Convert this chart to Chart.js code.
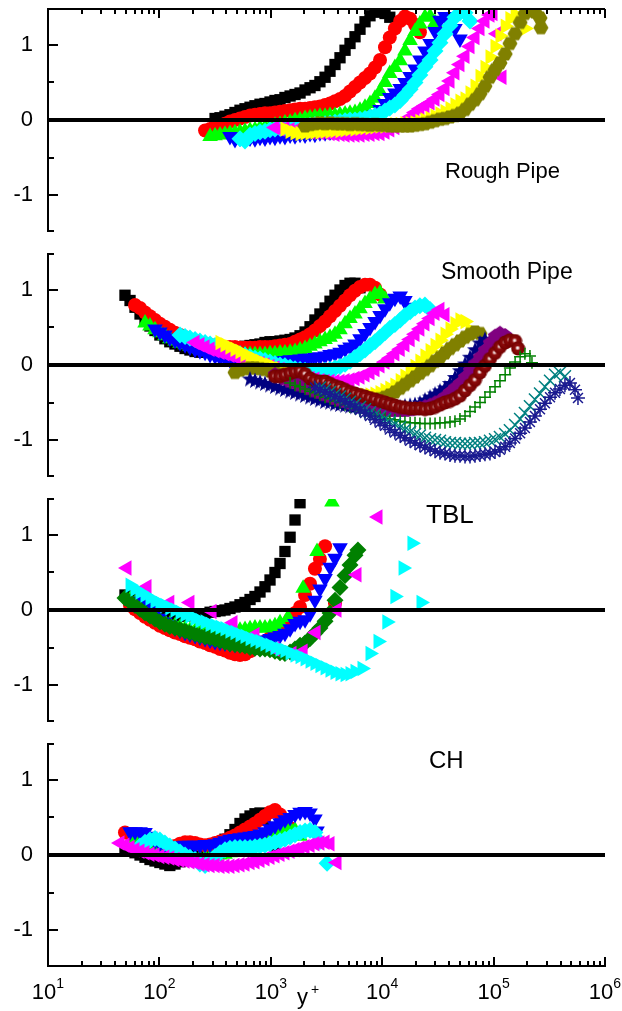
<!DOCTYPE html>
<html>
<head>
<meta charset="utf-8">
<script src="https://cdn.jsdelivr.net/npm/chart.js@4.4.0/dist/chart.umd.min.js"></script>
<style>
html, body { margin: 0; padding: 0; background: #fff; }
#wrap { position: relative; width: 622px; height: 1011px; overflow: hidden; }
canvas { position: absolute; left: 0; }
</style>
</head>
<body>
<div id="wrap">
  <canvas id="rough" width="622" height="240" style="top:0px"></canvas>
  <canvas id="smooth" width="622" height="240" style="top:245px"></canvas>
  <canvas id="tbl" width="622" height="240" style="top:490px"></canvas>
  <canvas id="ch" width="622" height="276" style="top:735px"></canvas>
</div>
<script>
// axis ticks
const yTicks = [-1, 0, 1];
const yMinor = [-0.5, 0.5];
const xDecades = [10, 100, 1000, 10000, 100000, 1000000];
const xSup = ['1', '2', '3', '4', '5', '6'];

// ---- Rough Pipe ----  [y+, value]
const roughBlack = [[316,0.02],[350,0.03],[388,0.05],[430,0.07],[477,0.1],[529,0.13],[587,0.15],[651,0.17],[721,0.19],[800,0.21],[887,0.22],[984,0.24],[1090,0.26],[1210,0.27],[1340,0.3],[1490,0.32],[1650,0.34],[1830,0.36],[2030,0.4],[2250,0.43],[2490,0.46],[2760,0.51],[3070,0.57],[3400,0.65],[3770,0.74],[4180,0.83],[4640,0.93],[5140,1.02],[5700,1.11],[6320,1.21],[7010,1.31],[7770,1.39],[8620,1.44],[9560,1.44],[10600,1.42],[11700,1.37]];
const roughRed = [[257,-0.14],[285,-0.12],[316,-0.09],[350,-0.07],[388,-0.05],[430,-0.02],[477,0],[529,0.02],[587,0.04],[651,0.06],[721,0.07],[800,0.08],[887,0.09],[984,0.09],[1090,0.1],[1210,0.11],[1340,0.12],[1490,0.13],[1650,0.14],[1830,0.15],[2030,0.15],[2250,0.16],[2490,0.17],[2760,0.18],[3070,0.2],[3400,0.22],[3770,0.25],[4180,0.28],[4640,0.32],[5140,0.38],[5700,0.44],[6320,0.5],[7010,0.56],[7770,0.62],[8620,0.7],[9560,0.8],[10600,0.97],[11700,1.1],[13000,1.22],[14500,1.32],[16000,1.38],[17800,1.35],[19700,1.27],[21800,1.17]];
const roughGreen = [[285,-0.22],[316,-0.21],[350,-0.2],[388,-0.19],[430,-0.18],[477,-0.17],[529,-0.16],[587,-0.15],[651,-0.14],[721,-0.13],[800,-0.11],[887,-0.1],[984,-0.09],[1090,-0.07],[1210,-0.06],[1340,-0.04],[1490,-0.03],[1650,-0.01],[1830,0],[2030,0.02],[2250,0.03],[2490,0.04],[2760,0.05],[3070,0.05],[3400,0.06],[3770,0.06],[4180,0.07],[4640,0.08],[5140,0.09],[5700,0.1],[6320,0.13],[7010,0.17],[7770,0.22],[8620,0.29],[9560,0.38],[10600,0.5],[11700,0.62],[13000,0.7],[14500,0.79],[16000,0.92],[17800,1.06],[19700,1.18],[21800,1.28],[24200,1.37],[26900,1.38],[29800,1.3]];
const roughBlue = [[430,-0.22],[477,-0.26],[529,-0.24],[587,-0.26],[651,-0.24],[721,-0.25],[800,-0.23],[887,-0.24],[984,-0.22],[1090,-0.23],[1210,-0.21],[1340,-0.22],[1490,-0.2],[1650,-0.21],[1830,-0.19],[2030,-0.2],[2250,-0.18],[2490,-0.19],[2760,-0.17],[3070,-0.17],[3400,-0.16],[3770,-0.15],[4180,-0.14],[4640,-0.13],[5140,-0.11],[5700,-0.09],[6320,-0.06],[7010,-0.02],[7770,0.02],[8620,0.07],[9560,0.14],[10600,0.22],[11700,0.3],[13000,0.36],[14500,0.42],[16000,0.5],[17800,0.58],[19700,0.68],[21800,0.8],[24200,0.92],[26900,1.02],[29800,1.18],[33000,1.33],[36600,1.38],[40600,1.32],[45000,1.22],[49900,1.08]];
const roughCyan = [[529,-0.25],[587,-0.28],[651,-0.2],[721,-0.18],[800,-0.16],[887,-0.15],[984,-0.13],[1090,-0.12],[1210,-0.11],[1340,-0.1],[1490,-0.1],[1650,-0.09],[1830,-0.08],[2030,-0.08],[2250,-0.07],[2490,-0.06],[2760,-0.06],[3070,-0.05],[3400,-0.04],[3770,-0.03],[4180,-0.02],[4640,-0.01],[5140,0],[5700,0],[6320,0.01],[7010,0.02],[7770,0.04],[8620,0.06],[9560,0.08],[10600,0.12],[11700,0.16],[13000,0.2],[14500,0.26],[16000,0.33],[17800,0.41],[19700,0.5],[21800,0.6],[24200,0.71],[26900,0.8],[29800,0.92],[33000,1.03],[36600,1.15],[40600,1.26],[45000,1.37],[49900,1.43],[55400,1.43],[61400,1.32]];
const roughMagenta = [[1090,-0.1],[1210,-0.12],[1340,-0.11],[1490,-0.13],[1650,-0.14],[1830,-0.14],[2030,-0.15],[2250,-0.16],[2490,-0.16],[2760,-0.17],[3070,-0.17],[3400,-0.18],[3770,-0.19],[4180,-0.19],[4640,-0.2],[5140,-0.2],[5700,-0.2],[6320,-0.2],[7010,-0.19],[7770,-0.19],[8620,-0.18],[9560,-0.18],[10600,-0.16],[11700,-0.13],[13000,-0.1],[14500,-0.06],[16000,-0.02],[17800,0.04],[19700,0.1],[21800,0.15],[24200,0.19],[26900,0.23],[29800,0.28],[33000,0.34],[36600,0.42],[40600,0.52],[45000,0.63],[49900,0.74],[55400,0.85],[61400,0.98],[68100,1.1],[75500,1.22],[83700,1.32],[92800,1.4],[98800,1.42],[107000,1.15],[119000,0.57]];
const roughYellow = [[1340,-0.12],[1490,-0.15],[1650,-0.17],[1830,-0.18],[2030,-0.17],[2250,-0.17],[2490,-0.16],[2760,-0.16],[3070,-0.15],[3400,-0.15],[3770,-0.14],[4180,-0.14],[4640,-0.13],[5140,-0.12],[5700,-0.12],[6320,-0.11],[7010,-0.1],[7770,-0.1],[8620,-0.09],[9560,-0.08],[10600,-0.08],[11700,-0.07],[13000,-0.06],[14500,-0.06],[16000,-0.05],[17800,-0.05],[19700,-0.04],[21800,-0.02],[24200,0],[26900,0.02],[29800,0.05],[33000,0.08],[36600,0.11],[40600,0.15],[45000,0.2],[49900,0.25],[55400,0.28],[61400,0.36],[68100,0.45],[75500,0.58],[83700,0.7],[92800,0.84],[103000,0.98],[114000,1.12],[127000,1.25],[140000,1.35],[156000,1.4],[173000,1.37],[191000,1.22]];
const roughOlive = [[2030,-0.08],[2250,-0.06],[2490,-0.05],[2760,-0.04],[3070,-0.05],[3400,-0.04],[3770,-0.05],[4180,-0.05],[4640,-0.05],[5140,-0.06],[5700,-0.05],[6320,-0.06],[7010,-0.06],[7770,-0.07],[8620,-0.06],[9560,-0.07],[10600,-0.07],[11700,-0.08],[13000,-0.08],[14500,-0.08],[16000,-0.08],[17800,-0.08],[19700,-0.07],[21800,-0.06],[24200,-0.05],[26900,-0.03],[29800,-0.01],[33000,0.01],[36600,0.02],[40600,0.04],[45000,0.06],[49900,0.09],[55400,0.14],[61400,0.21],[68100,0.27],[75500,0.35],[83700,0.45],[92800,0.57],[103000,0.67],[114000,0.76],[127000,0.88],[140000,1.02],[156000,1.15],[173000,1.3],[191000,1.42],[212000,1.46],[235000,1.44],[261000,1.36],[266000,1.23]];

// ---- Smooth Pipe ----
const smoothBlack = [[49.1,0.93],[54.5,0.86],[60.4,0.77],[67,0.68],[74.3,0.59],[82.3,0.52],[91.3,0.46],[101,0.4],[112,0.35],[124,0.31],[138,0.28],[153,0.25],[170,0.22],[188,0.2],[209,0.18],[231,0.17],[257,0.17],[285,0.17],[316,0.18],[350,0.19],[388,0.2],[430,0.21],[477,0.22],[529,0.24],[587,0.25],[651,0.26],[721,0.27],[800,0.28],[887,0.3],[984,0.31],[1090,0.31],[1210,0.32],[1340,0.33],[1490,0.34],[1650,0.36],[1830,0.39],[2030,0.44],[2250,0.51],[2490,0.6],[2760,0.68],[3070,0.76],[3400,0.85],[3770,0.93],[4180,1.0],[4640,1.06],[5140,1.09],[5700,1.09],[6320,1.03]];
const smoothRed = [[60.4,0.8],[67,0.76],[74.3,0.7],[82.3,0.65],[91.3,0.6],[101,0.55],[112,0.51],[124,0.47],[138,0.43],[153,0.4],[170,0.37],[188,0.34],[209,0.32],[231,0.3],[257,0.28],[285,0.27],[316,0.26],[350,0.25],[388,0.24],[430,0.24],[477,0.24],[529,0.23],[587,0.23],[651,0.23],[721,0.23],[800,0.24],[887,0.24],[984,0.24],[1090,0.25],[1210,0.26],[1340,0.27],[1490,0.28],[1650,0.31],[1830,0.34],[2030,0.37],[2250,0.41],[2490,0.46],[2760,0.52],[3070,0.58],[3400,0.65],[3770,0.72],[4180,0.79],[4640,0.86],[5140,0.93],[5700,0.99],[6320,1.04],[7010,1.07],[7770,1.07],[8620,1.03],[9560,0.94]];
const smoothGreen = [[74.3,0.56],[82.3,0.52],[91.3,0.47],[101,0.43],[112,0.39],[124,0.35],[138,0.32],[153,0.29],[170,0.27],[188,0.25],[209,0.23],[231,0.21],[257,0.2],[285,0.18],[316,0.17],[350,0.16],[388,0.15],[430,0.15],[477,0.14],[529,0.14],[587,0.14],[651,0.14],[721,0.14],[800,0.14],[887,0.14],[984,0.15],[1090,0.15],[1210,0.16],[1340,0.16],[1490,0.17],[1650,0.18],[1830,0.2],[2030,0.22],[2250,0.25],[2490,0.28],[2760,0.31],[3070,0.34],[3400,0.37],[3770,0.41],[4180,0.47],[4640,0.55],[5140,0.62],[5700,0.68],[6320,0.75],[7010,0.82],[7770,0.88],[8620,0.94],[9560,0.96],[10600,0.88]];
const smoothBlue = [[91.3,0.48],[101,0.44],[112,0.4],[124,0.36],[138,0.33],[153,0.3],[170,0.27],[188,0.24],[209,0.21],[231,0.19],[257,0.17],[285,0.14],[316,0.12],[350,0.1],[388,0.09],[430,0.07],[477,0.06],[529,0.05],[587,0.05],[651,0.04],[721,0.04],[800,0.04],[887,0.04],[984,0.04],[1090,0.05],[1210,0.05],[1340,0.06],[1490,0.07],[1650,0.07],[1830,0.08],[2030,0.09],[2250,0.09],[2490,0.1],[2760,0.11],[3070,0.12],[3400,0.14],[3770,0.15],[4180,0.17],[4640,0.21],[5140,0.24],[5700,0.28],[6320,0.35],[7010,0.42],[7770,0.5],[8620,0.58],[9560,0.66],[10600,0.75],[11700,0.83],[13000,0.89],[14500,0.92],[16000,0.86],[17100,0.77]];
const smoothCyan = [[153,0.4],[170,0.38],[188,0.36],[209,0.34],[231,0.32],[257,0.3],[285,0.28],[316,0.26],[350,0.23],[388,0.21],[430,0.19],[477,0.17],[529,0.15],[587,0.13],[651,0.11],[721,0.09],[800,0.08],[887,0.06],[984,0.04],[1090,0.02],[1210,0],[1340,-0.01],[1490,-0.03],[1650,-0.05],[1830,-0.06],[2030,-0.07],[2250,-0.08],[2490,-0.08],[2760,-0.08],[3070,-0.07],[3400,-0.06],[3770,-0.04],[4180,-0.02],[4640,0.01],[5140,0.05],[5700,0.1],[6320,0.15],[7010,0.2],[7770,0.26],[8620,0.31],[9560,0.37],[10600,0.43],[11700,0.49],[13000,0.54],[14500,0.6],[16000,0.66],[17800,0.71],[19700,0.76],[21800,0.79],[24200,0.8],[26900,0.74]];
const smoothMagenta = [[209,0.3],[231,0.27],[257,0.24],[285,0.21],[316,0.19],[350,0.17],[388,0.15],[430,0.13],[477,0.11],[529,0.09],[587,0.07],[651,0.05],[721,0.03],[800,0.02],[887,0],[984,-0.02],[1090,-0.04],[1210,-0.06],[1340,-0.08],[1490,-0.1],[1650,-0.12],[1830,-0.14],[2030,-0.16],[2250,-0.18],[2490,-0.19],[2760,-0.21],[3070,-0.22],[3400,-0.22],[3770,-0.22],[4180,-0.22],[4640,-0.21],[5140,-0.2],[5700,-0.18],[6320,-0.16],[7010,-0.13],[7770,-0.1],[8620,-0.06],[9560,-0.01],[10600,0.04],[11700,0.09],[13000,0.15],[14500,0.21],[16000,0.27],[17800,0.34],[19700,0.41],[21800,0.48],[24200,0.55],[26900,0.62],[29800,0.69],[33000,0.74],[36600,0.67]];
const smoothYellow = [[350,0.3],[388,0.27],[430,0.24],[477,0.21],[529,0.18],[587,0.14],[651,0.11],[721,0.08],[800,0.05],[887,0.02],[984,0],[1090,-0.03],[1210,-0.05],[1340,-0.08],[1490,-0.1],[1650,-0.13],[1830,-0.15],[2030,-0.18],[2250,-0.2],[2490,-0.23],[2760,-0.26],[3070,-0.28],[3400,-0.3],[3770,-0.32],[4180,-0.34],[4640,-0.36],[5140,-0.37],[5700,-0.39],[6320,-0.4],[7010,-0.4],[7770,-0.4],[8620,-0.39],[9560,-0.37],[10600,-0.34],[11700,-0.31],[13000,-0.27],[14500,-0.21],[16000,-0.15],[17800,-0.09],[19700,-0.02],[21800,0.05],[24200,0.12],[26900,0.19],[29800,0.26],[33000,0.33],[36600,0.41],[40600,0.48],[45000,0.55],[49900,0.6],[55400,0.58],[61400,0.47]];
const smoothOlive = [[477,-0.1],[529,-0.07],[587,-0.05],[651,-0.04],[721,-0.04],[800,-0.05],[887,-0.06],[984,-0.08],[1090,-0.1],[1210,-0.12],[1340,-0.14],[1490,-0.16],[1650,-0.19],[1830,-0.21],[2030,-0.24],[2250,-0.26],[2490,-0.29],[2760,-0.31],[3070,-0.34],[3400,-0.36],[3770,-0.38],[4180,-0.4],[4640,-0.42],[5140,-0.43],[5700,-0.45],[6320,-0.46],[7010,-0.47],[7770,-0.47],[8620,-0.47],[9560,-0.45],[10600,-0.43],[11700,-0.4],[13000,-0.36],[14500,-0.31],[16000,-0.26],[17800,-0.21],[19700,-0.16],[21800,-0.11],[24200,-0.06],[26900,-0.01],[29800,0.05],[33000,0.1],[36600,0.16],[40600,0.22],[45000,0.27],[49900,0.32],[55400,0.37],[61400,0.41],[68100,0.44],[75500,0.42]];
const smoothNavy = [[651,-0.18],[721,-0.2],[800,-0.22],[887,-0.24],[984,-0.26],[1090,-0.28],[1210,-0.3],[1340,-0.32],[1490,-0.34],[1650,-0.36],[1830,-0.38],[2030,-0.4],[2250,-0.42],[2490,-0.44],[2760,-0.46],[3070,-0.48],[3400,-0.49],[3770,-0.51],[4180,-0.52],[4640,-0.53],[5140,-0.54],[5700,-0.55],[6320,-0.56],[7010,-0.56],[7770,-0.57],[8620,-0.57],[9560,-0.57],[10600,-0.57],[11700,-0.56],[13000,-0.56],[14500,-0.55],[16000,-0.54],[17800,-0.53],[19700,-0.52],[21800,-0.5],[24200,-0.46],[26900,-0.42],[29800,-0.38],[33000,-0.34],[36600,-0.3],[40600,-0.24],[45000,-0.16],[49900,-0.07],[55400,0.02],[61400,0.11],[68100,0.21],[75500,0.3],[83700,0.35]];
const smoothPurple = [[1090,-0.12],[1210,-0.15],[1340,-0.18],[1490,-0.21],[1650,-0.23],[1830,-0.26],[2030,-0.28],[2250,-0.31],[2490,-0.34],[2760,-0.36],[3070,-0.39],[3400,-0.41],[3770,-0.44],[4180,-0.46],[4640,-0.48],[5140,-0.5],[5700,-0.52],[6320,-0.54],[7010,-0.56],[7770,-0.57],[8620,-0.58],[9560,-0.59],[10600,-0.6],[11700,-0.6],[13000,-0.6],[14500,-0.6],[16000,-0.6],[17800,-0.59],[19700,-0.58],[21800,-0.57],[24200,-0.55],[26900,-0.53],[29800,-0.5],[33000,-0.47],[36600,-0.42],[40600,-0.36],[45000,-0.3],[49900,-0.24],[55400,-0.16],[61400,-0.07],[68100,0.02],[75500,0.11],[83700,0.2],[92800,0.3],[103000,0.39],[114000,0.43],[127000,0.4]];
const smoothWine = [[1090,-0.15],[1210,-0.15],[1340,-0.13],[1490,-0.11],[1650,-0.09],[1830,-0.08],[2030,-0.12],[2250,-0.18],[2490,-0.21],[2760,-0.22],[3070,-0.22],[3400,-0.25],[3770,-0.28],[4180,-0.3],[4640,-0.33],[5140,-0.36],[5700,-0.38],[6320,-0.4],[7010,-0.42],[7770,-0.44],[8620,-0.46],[9560,-0.48],[10600,-0.5],[11700,-0.52],[13000,-0.54],[14500,-0.56],[16000,-0.57],[17800,-0.58],[19700,-0.58],[21800,-0.58],[24200,-0.59],[26900,-0.58],[29800,-0.56],[33000,-0.53],[36600,-0.5],[40600,-0.48],[45000,-0.45],[49900,-0.41],[55400,-0.34],[61400,-0.27],[68100,-0.2],[75500,-0.1],[83700,-0.01],[92800,0.08],[103000,0.16],[114000,0.24],[127000,0.3],[140000,0.33],[156000,0.32],[166000,0.22]];
const smoothPlus = [[1490,-0.24],[1650,-0.27],[1830,-0.29],[2030,-0.32],[2250,-0.35],[2490,-0.37],[2760,-0.4],[3070,-0.43],[3400,-0.45],[3770,-0.48],[4180,-0.5],[4640,-0.53],[5140,-0.56],[5700,-0.58],[6320,-0.61],[7010,-0.63],[7770,-0.65],[8620,-0.67],[9560,-0.69],[10600,-0.71],[11700,-0.72],[13000,-0.73],[14500,-0.75],[16000,-0.76],[17800,-0.77],[19700,-0.77],[21800,-0.78],[24200,-0.78],[26900,-0.78],[29800,-0.78],[33000,-0.77],[36600,-0.77],[40600,-0.76],[45000,-0.75],[49900,-0.72],[55400,-0.68],[61400,-0.62],[68100,-0.56],[75500,-0.5],[83700,-0.43],[92800,-0.36],[103000,-0.29],[114000,-0.21],[127000,-0.13],[140000,-0.04],[156000,0.04],[173000,0.11],[191000,0.15],[212000,0.12],[221000,0.03]];
const smoothX = [[2760,-0.3],[3070,-0.33],[3400,-0.36],[3770,-0.39],[4180,-0.42],[4640,-0.45],[5140,-0.49],[5700,-0.52],[6320,-0.56],[7010,-0.59],[7770,-0.63],[8620,-0.66],[9560,-0.69],[10600,-0.72],[11700,-0.76],[13000,-0.79],[14500,-0.83],[16000,-0.86],[17800,-0.89],[19700,-0.92],[21800,-0.94],[24200,-0.97],[26900,-0.99],[29800,-1.0],[33000,-1.01],[36600,-1.03],[40600,-1.04],[45000,-1.04],[49900,-1.05],[55400,-1.05],[61400,-1.05],[68100,-1.04],[75500,-1.04],[83700,-1.03],[92800,-1.01],[103000,-0.99],[114000,-0.96],[127000,-0.92],[140000,-0.87],[156000,-0.8],[173000,-0.72],[191000,-0.64],[212000,-0.55],[235000,-0.46],[261000,-0.38],[289000,-0.29],[321000,-0.21],[356000,-0.13],[394000,-0.1],[437000,-0.15]];
const smoothAst = [[2490,-0.3],[2760,-0.33],[3070,-0.36],[3400,-0.39],[3770,-0.42],[4180,-0.45],[4640,-0.49],[5140,-0.52],[5700,-0.56],[6320,-0.6],[7010,-0.64],[7770,-0.68],[8620,-0.73],[9560,-0.77],[10600,-0.81],[11700,-0.86],[13000,-0.9],[14500,-0.94],[16000,-0.97],[17800,-1.01],[19700,-1.04],[21800,-1.07],[24200,-1.1],[26900,-1.12],[29800,-1.15],[33000,-1.17],[36600,-1.18],[40600,-1.2],[45000,-1.21],[49900,-1.21],[55400,-1.22],[61400,-1.22],[68100,-1.21],[75500,-1.2],[83700,-1.19],[92800,-1.18],[103000,-1.16],[114000,-1.13],[127000,-1.09],[140000,-1.04],[156000,-0.98],[173000,-0.91],[191000,-0.84],[212000,-0.76],[235000,-0.68],[261000,-0.59],[289000,-0.51],[321000,-0.43],[356000,-0.37],[394000,-0.32],[437000,-0.27],[485000,-0.24],[538000,-0.33],[572000,-0.44]];

// ---- TBL ----
const tblBlack = [[49.1,0.2],[54.5,0.15],[60.4,0.1],[67,0.06],[74.3,0.03],[82.3,0],[91.3,-0.02],[101,-0.04],[112,-0.06],[124,-0.07],[138,-0.08],[153,-0.08],[170,-0.08],[188,-0.07],[209,-0.07],[231,-0.06],[257,-0.05],[285,-0.03],[316,-0.02],[350,-0.01],[388,0],[430,0.02],[477,0.04],[529,0.07],[587,0.1],[651,0.14],[721,0.18],[800,0.24],[887,0.31],[984,0.4],[1090,0.5],[1210,0.62],[1340,0.78],[1490,0.97],[1650,1.2],[1830,1.43]];
const tblRed = [[54.5,0.06],[60.4,0.01],[67,-0.04],[74.3,-0.09],[82.3,-0.13],[91.3,-0.17],[101,-0.21],[112,-0.24],[124,-0.27],[138,-0.3],[153,-0.32],[170,-0.35],[188,-0.37],[209,-0.39],[231,-0.42],[257,-0.44],[285,-0.47],[316,-0.49],[350,-0.52],[388,-0.54],[430,-0.57],[477,-0.59],[529,-0.6],[587,-0.59],[651,-0.55],[721,-0.51],[800,-0.46],[887,-0.42],[984,-0.37],[1090,-0.32],[1210,-0.27],[1340,-0.2],[1490,-0.12],[1650,-0.04],[1830,0.04],[2030,0.2],[2250,0.35],[2490,0.55],[2760,0.68],[3070,0.85],[3770,0.09]];
const tblGreen = [[54.5,0.14],[60.4,0.09],[67,0.04],[74.3,-0.01],[82.3,-0.06],[91.3,-0.1],[101,-0.13],[112,-0.16],[124,-0.19],[138,-0.21],[153,-0.23],[170,-0.25],[188,-0.27],[209,-0.28],[231,-0.29],[257,-0.3],[285,-0.31],[316,-0.32],[350,-0.32],[388,-0.31],[430,-0.3],[477,-0.29],[529,-0.27],[587,-0.26],[651,-0.25],[721,-0.24],[800,-0.24],[887,-0.24],[984,-0.23],[1090,-0.21],[1210,-0.17],[1430,-0.1],[1950,0.29],[2600,0.78],[3540,1.44]];
const tblBlue = [[67,0.12],[74.3,0.06],[82.3,0],[91.3,-0.06],[101,-0.11],[112,-0.16],[124,-0.2],[138,-0.24],[153,-0.27],[170,-0.3],[188,-0.32],[209,-0.34],[231,-0.36],[257,-0.38],[285,-0.4],[316,-0.42],[350,-0.43],[388,-0.44],[430,-0.45],[477,-0.46],[529,-0.46],[587,-0.46],[651,-0.45],[721,-0.44],[800,-0.42],[887,-0.4],[984,-0.38],[1090,-0.36],[1210,-0.34],[1340,-0.31],[1490,-0.25],[1650,-0.18],[1830,-0.15],[2030,-0.13],[2250,-0.05],[2490,0.13],[2760,0.28],[3070,0.42],[3400,0.57],[3770,0.69],[4180,0.83]];
const tblDiamond = [[49.1,0.16],[54.5,0.11],[60.4,0.06],[67,0.01],[74.3,-0.04],[82.3,-0.08],[91.3,-0.12],[101,-0.16],[112,-0.19],[124,-0.22],[138,-0.24],[153,-0.26],[170,-0.28],[188,-0.3],[209,-0.32],[231,-0.34],[257,-0.36],[285,-0.37],[316,-0.39],[350,-0.41],[388,-0.43],[430,-0.45],[477,-0.46],[529,-0.47],[587,-0.48],[651,-0.5],[721,-0.51],[800,-0.52],[887,-0.52],[984,-0.53],[1090,-0.55],[1210,-0.57],[1340,-0.58],[1490,-0.56],[1650,-0.52],[1830,-0.47],[2030,-0.44],[2250,-0.38],[2490,-0.31],[2760,-0.24],[3070,-0.15],[3400,-0.04],[3770,0.13],[4180,0.3],[4640,0.46],[5140,0.6],[5700,0.73],[6060,0.8]];
const tblMagenta = [[51.2,0.56],[77.4,0.31],[124,0.1],[188,0.1],[297,-0.02],[458,-0.17],[721,-0.33],[1090,-0.52],[1550,-0.58],[1950,-0.55],[2550,-0.3],[3930,0],[5940,0.47],[9170,1.24]];
const tblCyan = [[54.5,0.33],[60.4,0.28],[67,0.24],[74.3,0.2],[82.3,0.16],[91.3,0.12],[101,0.09],[112,0.06],[124,0.03],[138,0],[153,-0.03],[170,-0.06],[188,-0.08],[209,-0.11],[231,-0.14],[257,-0.16],[285,-0.19],[316,-0.21],[350,-0.23],[388,-0.25],[430,-0.28],[477,-0.3],[529,-0.33],[587,-0.35],[651,-0.38],[721,-0.4],[800,-0.42],[887,-0.45],[984,-0.47],[1090,-0.5],[1210,-0.52],[1340,-0.54],[1490,-0.57],[1650,-0.6],[1830,-0.62],[2030,-0.65],[2250,-0.68],[2490,-0.71],[2760,-0.74],[3070,-0.77],[3400,-0.8],[3770,-0.83],[4180,-0.85],[4640,-0.86],[5140,-0.85],[5700,-0.82],[6590,-0.78],[7770,-0.58],[9170,-0.42],[11000,-0.16],[13000,0.18],[15400,0.56],[18500,0.89],[22300,0.1]];

// ---- CH ----
const chBlack = [[49.1,0.08],[54.5,0.05],[60.4,0.03],[67,0],[74.3,-0.03],[82.3,-0.06],[91.3,-0.08],[101,-0.1],[112,-0.12],[124,-0.14],[138,-0.12],[153,-0.09],[170,-0.05],[188,-0.02],[209,0.01],[231,0.04],[257,0.07],[285,0.1],[316,0.13],[350,0.17],[388,0.21],[430,0.27],[477,0.34],[529,0.42],[587,0.48],[651,0.52],[721,0.55],[800,0.56],[887,0.5],[984,0.35],[1090,0.12]];
const chRed = [[49.1,0.3],[54.5,0.28],[60.4,0.25],[67,0.2],[74.3,0.15],[82.3,0.12],[91.3,0.1],[101,0.09],[112,0.09],[124,0.1],[138,0.12],[153,0.15],[170,0.17],[188,0.17],[209,0.16],[231,0.14],[257,0.13],[285,0.14],[316,0.16],[350,0.18],[388,0.2],[430,0.23],[477,0.26],[529,0.3],[587,0.34],[651,0.38],[721,0.42],[800,0.47],[887,0.52],[984,0.57],[1090,0.6],[1210,0.54],[1340,0.45],[1490,0.36]];
const chGreen = [[60.4,0.2],[67,0.16],[74.3,0.12],[82.3,0.08],[91.3,0.05],[101,0.02],[112,0],[124,-0.02],[138,-0.04],[153,-0.05],[170,-0.06],[188,-0.06],[209,-0.06],[231,-0.05],[257,-0.04],[285,-0.03],[316,-0.02],[350,0],[388,0.01],[430,0.03],[477,0.05],[529,0.07],[587,0.09],[651,0.11],[721,0.14],[800,0.17],[887,0.2],[984,0.23],[1090,0.26],[1210,0.29],[1340,0.32],[1490,0.35],[1650,0.33],[1830,0.25]];
const chBlue = [[54.5,0.31],[60.4,0.31],[67,0.31],[74.3,0.3],[82.3,0.25],[91.3,0.19],[101,0.15],[112,0.13],[124,0.12],[138,0.12],[153,0.12],[170,0.13],[188,0.13],[209,0.13],[231,0.13],[257,0.14],[285,0.14],[316,0.15],[350,0.17],[388,0.19],[430,0.21],[477,0.22],[529,0.23],[587,0.24],[651,0.25],[721,0.26],[800,0.28],[887,0.31],[984,0.35],[1090,0.39],[1210,0.43],[1340,0.47],[1490,0.5],[1650,0.54],[1830,0.57],[2030,0.58],[2250,0.56],[2490,0.48],[2600,0.32]];
const chCyan = [[67,0.12],[74.3,0.17],[82.3,0.2],[91.3,0.22],[101,0.2],[112,0.16],[124,0.12],[138,0.08],[153,0.04],[170,0],[188,-0.03],[209,-0.06],[231,-0.12],[257,-0.14],[285,-0.08],[316,-0.02],[350,0.03],[388,0.07],[430,0.09],[477,0.1],[529,0.1],[587,0.1],[651,0.1],[721,0.11],[800,0.12],[887,0.13],[984,0.15],[1090,0.17],[1210,0.19],[1340,0.21],[1490,0.24],[1650,0.27],[1830,0.3],[2030,0.32],[2250,0.33],[2490,0.3],[2760,0.18],[3200,-0.11]];
const chMagenta = [[44.3,0.16],[49.1,0.13],[54.5,0.1],[60.4,0.07],[67,0.05],[74.3,0.03],[82.3,0.01],[91.3,0],[101,-0.02],[112,-0.03],[124,-0.04],[138,-0.06],[153,-0.07],[170,-0.08],[188,-0.09],[209,-0.1],[231,-0.12],[257,-0.13],[285,-0.14],[316,-0.14],[350,-0.15],[388,-0.15],[430,-0.15],[477,-0.14],[529,-0.13],[587,-0.12],[651,-0.1],[721,-0.09],[800,-0.07],[887,-0.05],[984,-0.03],[1090,-0.01],[1210,0.01],[1340,0.03],[1490,0.05],[1650,0.07],[1830,0.09],[2030,0.11],[2250,0.13],[2490,0.15],[2760,0.16],[3070,0.17],[3400,0.15],[3930,-0.1]];

const FONT = '"Liberation Sans", Arial, Helvetica, sans-serif';
Chart.defaults.font.family = FONT;

// marker pictures for shapes Chart.js doesn't have
function shape(kind, color, size) {
  const c = document.createElement('canvas');
  c.width = c.height = size;
  const g = c.getContext('2d');
  const m = size / 2, r = size / 2 - 0.5;
  g.beginPath();
  if (kind === 'hex') {
    for (let i = 0; i < 6; i++) {
      const a = i * Math.PI / 3;
      g.lineTo(m + r * Math.cos(a), m + r * Math.sin(a));
    }
  } else if (kind === 'pent') {
    for (let i = 0; i < 5; i++) {
      const a = -Math.PI / 2 + i * 2 * Math.PI / 5;
      g.lineTo(m + r * Math.cos(a), m + 0.6 + r * Math.sin(a));
    }
  } else if (kind === 'star') {
    for (let i = 0; i < 10; i++) {
      const a = -Math.PI / 2 + i * Math.PI / 5;
      const rr = i % 2 ? r * 0.42 : r;
      g.lineTo(m + rr * Math.cos(a), m + 1 + rr * Math.sin(a));
    }
  } else if (kind === 'sphere') {
    const gr = g.createRadialGradient(m - 0.7, m - 0.7, 0, m, m, r);
    gr.addColorStop(0, '#ffffff');
    gr.addColorStop(0.14, '#f0d8d8');
    gr.addColorStop(0.36, '#8e0c0c');
    gr.addColorStop(1, '#720000');
    g.arc(m, m, r, 0, Math.PI * 2);
    g.fillStyle = gr;
    g.fill();
    return c;
  }
  g.closePath();
  g.fillStyle = color;
  g.fill();
  return c;
}

const strokeOnly = ['cross', 'crossRot', 'star'];
function mk(data, color, style, r, rot) {
  return {
    data: data.map(p => ({ x: p[0], y: p[1] })),
    pointStyle: style,
    pointRadius: r,
    pointRotation: rot || 0,
    pointBackgroundColor: color,
    pointBorderColor: color,
    pointBorderWidth: strokeOnly.includes(style) ? 1.5 : 0
  };
}

const framePlugin = {
  id: 'frame',
  afterDatasetsDraw(chart, args, opts) {
    const ctx = chart.ctx;
    const a = chart.chartArea;
    const xs = chart.scales.x, ys = chart.scales.y;
    ctx.save();
    ctx.strokeStyle = '#000';
    ctx.lineWidth = 2;
    ctx.beginPath();
    ctx.moveTo(a.left, a.top); ctx.lineTo(a.left + 6, a.top);
    ctx.moveTo(a.left, a.bottom); ctx.lineTo(a.left + 6, a.bottom);
    yTicks.forEach(v => { const p = Math.round(ys.getPixelForValue(v)); ctx.moveTo(a.left, p); ctx.lineTo(a.left + 10, p); });
    yMinor.forEach(v => { const p = Math.round(ys.getPixelForValue(v)); ctx.moveTo(a.left, p); ctx.lineTo(a.left + 6, p); });
    if (opts.top || opts.bottom) {
      const yb = opts.top ? a.top : a.bottom;
      const dir = opts.top ? 1 : -1;
      if (opts.top) { ctx.moveTo(a.left, a.top); ctx.lineTo(a.right, a.top); }
      xDecades.forEach((d, i) => {
        const p = Math.round(xs.getPixelForValue(d));
        ctx.moveTo(p, yb); ctx.lineTo(p, yb + dir * 9);
        if (i < xDecades.length - 1) {
          for (let k = 2; k <= 9; k++) {
            const q = Math.round(xs.getPixelForValue(d * k));
            ctx.moveTo(q, yb); ctx.lineTo(q, yb + dir * 5);
          }
        }
      });
    }
    ctx.stroke();
    ctx.fillStyle = '#000';
    ctx.textBaseline = 'alphabetic';
    ctx.textAlign = 'left';
    if (opts.title) {
      ctx.font = opts.title.size + 'px ' + FONT;
      ctx.fillText(opts.title.text, opts.title.x, opts.title.y);
    }
    if (opts.bottom) {
      xDecades.forEach((d, i) => {
        const p = xs.getPixelForValue(d);
        ctx.font = '22px ' + FONT;
        const w1 = ctx.measureText('10').width;
        ctx.font = '14px ' + FONT;
        const w2 = ctx.measureText(xSup[i]).width;
        const x0 = p - (w1 + w2) / 2;
        ctx.font = '22px ' + FONT;
        ctx.fillText('10', x0, a.bottom + 33);
        ctx.font = '14px ' + FONT;
        ctx.fillText(xSup[i], x0 + w1, a.bottom + 22);
      });
      ctx.font = '22px ' + FONT;
      ctx.fillText('y', 297, a.bottom + 38);
      ctx.font = '14px ' + FONT;
      ctx.fillText('+', 311, a.bottom + 28);
    }
    ctx.restore();
  }
};

function panel(id, sets, frame, showX) {
  const datasets = sets.map((s, i) => Object.assign(s, { order: -i }));
  datasets.push({
    data: [{ x: 10, y: 0 }, { x: 1000000, y: 0 }],
    showLine: true, borderColor: '#000', borderWidth: 4, pointRadius: 0, order: -100
  });
  return new Chart(document.getElementById(id), {
    type: 'scatter',
    data: { datasets },
    options: {
      responsive: false,
      animation: false,
      devicePixelRatio: 1,
      events: [],
      layout: { autoPadding: false, padding: { top: 9, bottom: showX ? 0 : 9, left: 0, right: 17 } },
      plugins: { legend: { display: false }, tooltip: { enabled: false }, frame },
      scales: {
        x: {
          type: 'logarithmic', min: 10, max: 1000000, display: showX,
          grid: { display: false, drawTicks: false },
          border: { display: true, color: '#000', width: 2 },
          ticks: { display: false },
          afterFit: s => { s.height = showX ? 45 : 0; s.paddingLeft = 0; s.paddingRight = 0; }
        },
        y: {
          min: -1.48, max: 1.48,
          grid: { display: false, drawTicks: false },
          border: { display: true, color: '#000', width: 2 },
          afterBuildTicks: s => { s.ticks = yTicks.map(v => ({ value: v })); },
          afterFit: s => { s.width = 48; s.paddingTop = 0; s.paddingBottom = 0; },
          ticks: { padding: 15, color: '#000', font: { size: 22 }, callback: v => String(v) }
        }
      }
    },
    plugins: [framePlugin]
  });
}

const hexOlive = shape('hex', '#808000', 16);
const starNavy = shape('star', '#000080', 18);
const pentPurple = shape('pent', '#800080', 16);
const sphereWine = shape('sphere', '#800000', 15);

panel('rough', [
  mk(roughBlack, '#000000', 'rect', 8),
  mk(roughRed, '#ff0000', 'circle', 7),
  mk(roughGreen, '#00ff00', 'triangle', 9),
  mk(roughBlue, '#0000ff', 'triangle', 9, 180),
  mk(roughCyan, '#00ffff', 'rectRot', 8.5),
  mk(roughMagenta, '#ff00ff', 'triangle', 9, 270),
  mk(roughYellow, '#ffff00', 'triangle', 9, 90),
  mk(roughOlive, '#808000', hexOlive, 8)
], { top: true, title: { text: 'Rough Pipe', x: 445, y: 178, size: 22 } }, false);

panel('smooth', [
  mk(smoothBlack, '#000000', 'rect', 8),
  mk(smoothRed, '#ff0000', 'circle', 7),
  mk(smoothGreen, '#00ff00', 'triangle', 9),
  mk(smoothBlue, '#0000ff', 'triangle', 9, 180),
  mk(smoothCyan, '#00ffff', 'rectRot', 8.5),
  mk(smoothMagenta, '#ff00ff', 'triangle', 9, 270),
  mk(smoothYellow, '#ffff00', 'triangle', 9, 90),
  mk(smoothOlive, '#808000', hexOlive, 8),
  mk(smoothNavy, '#000080', starNavy, 8),
  mk(smoothPurple, '#800080', pentPurple, 8),
  mk(smoothWine, '#800000', sphereWine, 8),
  mk(smoothPlus, '#008000', 'cross', 6),
  mk(smoothX, '#008080', 'crossRot', 8.5),
  mk(smoothAst, '#1a1a90', 'star', 7)
], { title: { text: 'Smooth Pipe', x: 441, y: 34, size: 23 } }, false);

panel('tbl', [
  mk(tblBlack, '#000000', 'rect', 8),
  mk(tblRed, '#ff0000', 'circle', 7),
  mk(tblGreen, '#00ff00', 'triangle', 9),
  mk(tblBlue, '#0000ff', 'triangle', 9, 180),
  mk(tblDiamond, '#008000', 'rectRot', 8.5),
  mk(tblMagenta, '#ff00ff', 'triangle', 9, 270),
  mk(tblCyan, '#00ffff', 'triangle', 9, 90)
], { title: { text: 'TBL', x: 426, y: 33, size: 26 } }, false);

panel('ch', [
  mk(chBlack, '#000000', 'rect', 8),
  mk(chRed, '#ff0000', 'circle', 7),
  mk(chGreen, '#00ff00', 'triangle', 9),
  mk(chBlue, '#0000ff', 'triangle', 9, 180),
  mk(chCyan, '#00ffff', 'rectRot', 8.5),
  mk(chMagenta, '#ff00ff', 'triangle', 9, 270)
], { bottom: true, title: { text: 'CH', x: 429, y: 33, size: 24 } }, true);
</script>
</body>
</html>
